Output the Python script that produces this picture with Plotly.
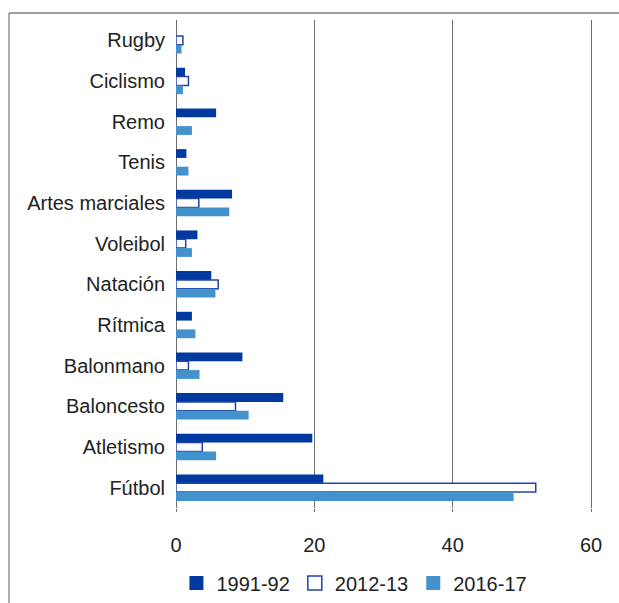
import plotly.graph_objects as go

categories = ["Rugby", "Ciclismo", "Remo", "Tenis", "Artes marciales", "Voleibol",
              "Natación", "Rítmica", "Balonmano", "Baloncesto", "Atletismo", "Fútbol"]
v_1991_92 = [None, 1.3, 5.8, 1.5, 8.1, 3.1, 5.1, 2.3, 9.6, 15.5, 19.7, 21.3]
v_2012_13 = [1.0, 1.8, None, None, 3.3, 1.4, 6.1, None, 1.8, 8.6, 3.8, 52.0]
v_2016_17 = [0.8, 1.0, 2.3, 1.8, 7.7, 2.3, 5.7, 2.8, 3.4, 10.5, 5.8, 48.8]
series_names = ["1991-92", "2012-13", "2016-17"]
x_ticks = [0, 20, 40, 60]

DARK = "#0039a0"
LIGHT = "#4391cd"
OUTLINE = "#2244a6"
GRID = "#6e6e6e"
FONT = "Liberation Sans, Arial, sans-serif"

W, H = 619, 603
ML, MR, MT, MB = 176, 21, 20, 95
PW = W - ML - MR
PH = H - MT - MB

fig = go.Figure()
styles = [
    dict(color=DARK, line=dict(width=0)),
    dict(color="white", line=dict(color=OUTLINE, width=1.5)),
    dict(color=LIGHT, line=dict(width=0)),
]
for name, vals, st in zip(series_names, [v_1991_92, v_2012_13, v_2016_17], styles):
    fig.add_trace(go.Bar(y=categories, x=vals, orientation="h", name=name,
                         marker=st, showlegend=False, hoverinfo="x+y"))

for name, st in zip(series_names, styles):
    fig.add_trace(go.Scatter(x=[None], y=[None], mode="markers", name=name,
                             marker=dict(symbol="square", size=14, **st),
                             showlegend=True))

frame_x = (9 - ML) / PW
frame_y = (H - MB - 13) / PH
legend_y = (H - MB - 583) / PH

fig.update_layout(
    width=W, height=H,
    margin=dict(l=ML, r=MR, t=MT, b=MB, autoexpand=False),
    paper_bgcolor="white", plot_bgcolor="white",
    barmode="group", bargap=0.35, bargroupgap=0,
    font=dict(family=FONT, size=20, color="#222222"),
    showlegend=True,
    legend=dict(orientation="h", x=0.001, xanchor="left", y=legend_y, yanchor="middle",
                font=dict(family=FONT, size=20, color="#222222"),
                itemsizing="trace", bgcolor="rgba(0,0,0,0)"),
    xaxis=dict(range=[0, 61], tickvals=x_ticks, ticktext=[str(t) for t in x_ticks],
               showgrid=True, gridcolor=GRID, gridwidth=1.3,
               zeroline=True, zerolinecolor=GRID, zerolinewidth=1.3,
               showline=False, ticks="outside", ticklen=3, tickcolor=GRID, tickwidth=1.3,
               ticklabelstandoff=16, automargin=False, fixedrange=True),
    yaxis=dict(autorange="reversed", showgrid=False, zeroline=False, showline=False,
               ticks="outside", ticklen=6, tickcolor="rgba(0,0,0,0)",
               automargin=False, fixedrange=True),
    shapes=[
        dict(type="line", xref="paper", yref="paper", x0=frame_x, x1=1.2,
             y0=frame_y, y1=frame_y, line=dict(color="#808080", width=1.3)),
        dict(type="line", xref="paper", yref="paper", x0=frame_x, x1=frame_x,
             y0=frame_y, y1=-0.3, line=dict(color="#808080", width=1.3)),
    ],
)

fig.write_html("out.html", config={"displayModeBar": False},
               post_script="document.body.style.margin='0';")
